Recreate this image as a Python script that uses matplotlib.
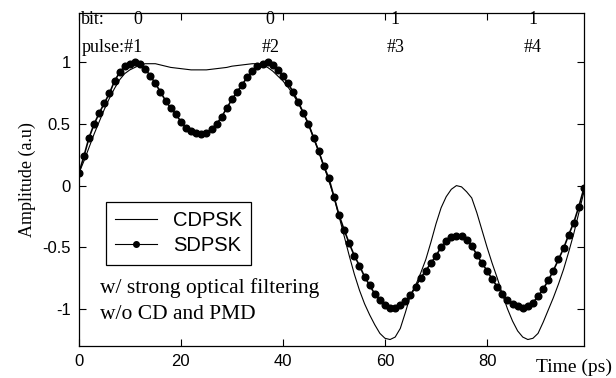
import matplotlib
matplotlib.use("Agg")
import matplotlib.pyplot as plt

# time axis (ps), one sample per ps
time_ps = list(range(100))

# thin line, conventional DPSK
cdpsk = [
    0.10, 0.20, 0.31, 0.42, 0.52, 0.62, 0.71, 0.79, 0.86, 0.91,
    0.94, 0.96, 0.98, 0.99, 0.99, 0.99, 0.98, 0.97, 0.96, 0.955,
    0.95, 0.945, 0.94, 0.94, 0.94, 0.94, 0.945, 0.95, 0.955, 0.96,
    0.97, 0.975, 0.98, 0.985, 0.99, 0.99, 0.98, 0.96, 0.93, 0.89,
    0.85, 0.80, 0.74, 0.67, 0.59, 0.50, 0.39, 0.28, 0.16, 0.04,
    -0.09, -0.25, -0.41, -0.57, -0.72, -0.85, -0.96, -1.05, -1.13, -1.20,
    -1.24, -1.25, -1.23, -1.16, -1.03, -0.89, -0.81, -0.71, -0.60, -0.46,
    -0.31, -0.18, -0.09, -0.03, 0.00, -0.01, -0.05, -0.10, -0.22, -0.36,
    -0.50, -0.63, -0.75, -0.88, -1.00, -1.10, -1.18, -1.23, -1.25, -1.24,
    -1.20, -1.11, -1.01, -0.91, -0.80, -0.68, -0.54, -0.39, -0.22, -0.05,
]

# dotted line, SDPSK
sdpsk = [
    0.10, 0.24, 0.39, 0.50, 0.59, 0.67, 0.75, 0.85, 0.92, 0.97,
    0.99, 1.00, 0.99, 0.95, 0.89, 0.83, 0.76, 0.69, 0.63, 0.58,
    0.52, 0.47, 0.44, 0.43, 0.42, 0.43, 0.46, 0.50, 0.56, 0.63,
    0.70, 0.76, 0.82, 0.88, 0.93, 0.97, 0.99, 1.00, 0.98, 0.94,
    0.89, 0.83, 0.76, 0.68, 0.59, 0.50, 0.39, 0.28, 0.16, 0.06,
    -0.09, -0.24, -0.36, -0.47, -0.57, -0.65, -0.74, -0.81, -0.88, -0.93,
    -0.97, -0.99, -0.99, -0.97, -0.94, -0.89, -0.82, -0.75, -0.69, -0.63,
    -0.57, -0.50, -0.45, -0.42, -0.41, -0.41, -0.44, -0.49, -0.56, -0.63,
    -0.69, -0.76, -0.82, -0.88, -0.93, -0.96, -0.98, -0.99, -0.98, -0.95,
    -0.90, -0.84, -0.77, -0.69, -0.60, -0.51, -0.40, -0.30, -0.17, -0.02,
]

bits = ["0", "0", "1", "1"]
pulses = ["#1", "#2", "#3", "#4"]
bit_pos = [11.5, 37.5, 62.0, 89.0]

SERIF = ["Liberation Serif", "DejaVu Serif"]
SANS = ["Liberation Sans", "DejaVu Sans"]

fig = plt.figure(figsize=(6.16, 3.78), dpi=100)
ax = fig.add_axes([0.128, 0.0855, 0.82, 0.8795])

ax.plot(time_ps, cdpsk, color="black", lw=0.8, label="CDPSK")
ax.plot(time_ps, sdpsk, color="black", lw=1.2, marker="o", ms=4.8,
        label="SDPSK")

ax.set_xlim(0, 99)
ax.set_ylim(-1.3, 1.4)
ax.set_xticks([0, 20, 40, 60, 80])
ax.set_yticks([-1, -0.5, 0, 0.5, 1])
ax.set_yticklabels(["-1", "-0.5", "0", "0.5", "1"])
ax.tick_params(direction="in", top=True, right=True, length=5, width=0.8,
               labelsize=12, pad=6)
for lab in ax.get_xticklabels() + ax.get_yticklabels():
    lab.set_family(SANS)
for sp in ax.spines.values():
    sp.set_linewidth(0.9)

ax.set_ylabel("Amplitude (a.u)", family=SERIF, fontsize=13, labelpad=4)
fig.text(0.87, 0.027, "Time (ps)", family=SERIF, fontsize=14,
         ha="left", va="center")

# bit / pulse annotations along the top
ax.text(0.5, 1.35, "bit:", family=SERIF, fontsize=13, va="center")
for i, (x, b, p) in enumerate(zip(bit_pos, bits, pulses)):
    ax.text(x, 1.35, b, family=SERIF, fontsize=13, ha="center", va="center")
    if i == 0:
        ax.text(0.5, 1.12, "pulse:" + p, family=SERIF, fontsize=13,
                va="center")
    else:
        ax.text(x, 1.12, p, family=SERIF, fontsize=13, ha="center",
                va="center")

ax.text(4.2, -0.83, "w/ strong optical filtering", family=SERIF,
        fontsize=15.5, va="center")
ax.text(4.2, -1.05, "w/o CD and PMD", family=SERIF, fontsize=15.5,
        va="center")

leg = ax.legend(loc="upper left", bbox_to_anchor=(0.053, 0.431),
                borderaxespad=0, fancybox=False, framealpha=1,
                edgecolor="black", handlelength=2.1, handletextpad=0.8,
                borderpad=0.45, labelspacing=0.3,
                prop={"family": SANS, "size": 14.5})
leg.get_frame().set_linewidth(0.9)
for h in leg.get_lines():
    h.set_linewidth(0.8)
    h.set_markersize(4)

fig.savefig("out.png", dpi=100)
